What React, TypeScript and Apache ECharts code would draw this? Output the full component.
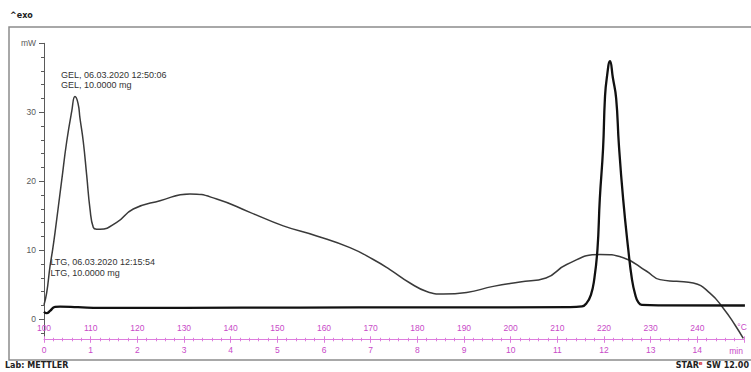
import React, { useEffect, useRef } from "react";
import * as echarts from "echarts";

// GEL sample curve: time (min) and heat flow (mW)
const gelTime = [
  0, 0.058, 0.129, 0.186, 0.236, 0.379, 0.486, 0.594, 0.664, 0.729, 0.771, 0.842,
  0.915, 0.986, 1.057, 1.129, 1.2, 1.558, 1.913, 2.486, 3.128, 3.7, 4.414, 5.127,
  5.843, 6.556, 7.056, 7.413, 7.842, 8.2, 8.556, 9.057, 9.627, 10.2, 10.756, 11.2,
  11.913, 12.413, 12.914, 13.2, 13.557, 13.913, 14.27, 14.556, 14.807, 14.985,
];
const gelPower = [
  2.09, 3.85, 7.69, 10.13, 12.57, 20.12, 25.73, 30.12, 32.28, 31.3, 29.14, 25.73,
  20.85, 15.98, 13.3, 13.06, 13.06, 14.04, 15.98, 17.19, 18.17, 17.44, 15.5, 13.54,
  12.08, 10.38, 8.67, 7.21, 5.26, 4.04, 3.65, 3.89, 4.77, 5.41, 5.99, 7.94,
  9.4, 8.92, 6.96, 5.75, 5.5, 5.26, 3.8, 1.61, -0.83, -2.78,
];

// LTG sample curve: time (min) and heat flow (mW)
const ltgTime = [
  0, 0.058, 0.129, 0.236, 0.343, 0.729, 1.2, 3.0, 5.49, 8.0, 11.27, 11.53, 11.63,
  11.72, 11.79, 11.86, 11.91, 11.98, 12.02, 12.06, 12.13, 12.19, 12.26, 12.32,
  12.41, 12.52, 12.6, 12.67, 12.73, 12.81, 13.2, 15.02,
];
const ltgPower = [
  1.11, 0.88, 1.21, 1.8, 1.83, 1.75, 1.65, 1.66, 1.7, 1.73, 1.75, 1.87, 2.38,
  3.55, 5.75, 10.13, 17.44, 24.75, 32.06, 34.99, 37.43, 35.0, 32.06, 25.19,
  17.44, 10.13, 5.75, 3.55, 2.53, 2.09, 2.02, 2.0,
];

// Axis tick positions
const yMajorTicks = [0, 10, 20, 30, 40];
const yMinorTicks = [-2, 2, 4, 6, 8, 12, 14, 16, 18, 22, 24, 26, 28, 32, 34, 36, 38];

const AXIS_GRAY = "#5a5a5a";
const PINK_LINE = "#dd7ddd";
const PINK_TEXT = "#c84ac8";
const FONT = "Liberation Sans, Arial, sans-serif";
const BOLD_FONT = "DejaVu Sans, Verdana, sans-serif";

const zip = (xs: number[], ys: number[]) => xs.map((x, i) => [x, ys[i]]);

export default function App() {
  const ref = useRef<HTMLDivElement>(null);

  useEffect(() => {
    if (!ref.current) return;
    const chart = echarts.init(ref.current, undefined, { renderer: "svg" });

    const pinkTick = { lineStyle: { color: PINK_LINE, width: 1 } };

    chart.setOption({
      animation: false,
      backgroundColor: "#ffffff",
      grid: { left: 44, right: 7, top: 43.3, bottom: 32.7, containLabel: false },
      xAxis: [
        {
          type: "value",
          min: 0,
          max: 15,
          interval: 1,
          position: "bottom",
          axisLine: { show: true, onZero: false, lineStyle: { color: PINK_LINE, width: 1 } },
          axisTick: { show: true, length: 3.5, ...pinkTick },
          minorTick: { show: true, splitNumber: 5, length: 2, ...pinkTick },
          axisLabel: {
            color: PINK_TEXT,
            fontSize: 8.5,
            fontFamily: FONT,
            margin: 6,
            showMaxLabel: false,
          },
          splitLine: { show: false },
        },
        {
          type: "value",
          min: 100,
          max: 250,
          interval: 10,
          position: "bottom",
          axisLine: { show: false, onZero: false },
          axisTick: { show: true, inside: true, length: 3, ...pinkTick },
          minorTick: { show: true, splitNumber: 5, length: 1.5, ...pinkTick },
          axisLabel: {
            inside: true,
            color: PINK_TEXT,
            fontSize: 8.5,
            fontFamily: FONT,
            margin: 7,
            showMaxLabel: false,
          },
          splitLine: { show: false },
        },
      ],
      yAxis: [
        {
          type: "value",
          min: -2.9,
          max: 40,
          position: "left",
          axisLine: { show: true, onZero: false, lineStyle: { color: AXIS_GRAY, width: 1 } },
          axisTick: {
            show: true,
            customValues: yMajorTicks,
            length: 5,
            lineStyle: { color: AXIS_GRAY },
          },
          axisLabel: {
            customValues: yMajorTicks,
            formatter: (v: number) => (v === 40 ? "mW" : String(v)),
            color: AXIS_GRAY,
            fontSize: 8.5,
            fontFamily: FONT,
            margin: 8,
          },
          splitLine: { show: false },
        },
        {
          type: "value",
          min: -2.9,
          max: 40,
          position: "left",
          axisLine: { show: false },
          axisTick: {
            show: true,
            customValues: yMinorTicks,
            length: 3,
            lineStyle: { color: AXIS_GRAY },
          },
          axisLabel: { show: false },
          splitLine: { show: false },
        },
      ],
      series: [
        {
          name: "GEL",
          type: "line",
          xAxisIndex: 0,
          yAxisIndex: 0,
          data: zip(gelTime, gelPower),
          showSymbol: false,
          smooth: 0.5,
          lineStyle: { color: "#3a3a3a", width: 1.5 },
          z: 3,
        },
        {
          name: "LTG",
          type: "line",
          xAxisIndex: 0,
          yAxisIndex: 0,
          data: zip(ltgTime, ltgPower),
          showSymbol: false,
          smooth: 0.5,
          lineStyle: { color: "#111111", width: 2.3 },
          z: 4,
        },
      ],
      graphic: [
        {
          type: "rect",
          z: 0,
          shape: { x: 9, y: 27, width: 800, height: 333 },
          style: { fill: "none", stroke: "#8c8c8c", lineWidth: 1.5 },
        },
        {
          type: "text",
          x: 10,
          y: 15,
          style: {
            text: "^exo",
            font: `bold 8px ${BOLD_FONT}`,
            fill: "#222",
            verticalAlign: "middle",
          },
        },
        {
          type: "text",
          x: 5,
          y: 365.5,
          style: {
            text: "Lab: METTLER",
            font: `bold 8px ${BOLD_FONT}`,
            fill: "#222",
            verticalAlign: "middle",
          },
        },
        {
          type: "text",
          x: 749,
          y: 365.5,
          style: {
            text: "{a|STAR}{b|e}{a| SW 12.00}",
            align: "right",
            verticalAlign: "middle",
            rich: {
              a: { font: `bold 8px ${BOLD_FONT}`, fill: "#222" },
              b: {
                font: `bold 5.5px ${BOLD_FONT}`,
                fill: "#d42020",
                padding: [0, 1, 5, 0],
              },
            },
          },
        },
        {
          type: "text",
          x: 61,
          y: 80,
          style: {
            text: "GEL, 06.03.2020 12:50:06\nGEL, 10.0000 mg",
            font: `9px ${FONT}`,
            lineHeight: 10.5,
            fill: "#333",
            verticalAlign: "middle",
          },
        },
        {
          type: "text",
          x: 50.5,
          y: 267.3,
          style: {
            text: "LTG, 06.03.2020 12:15:54\nLTG, 10.0000 mg",
            font: `9px ${FONT}`,
            lineHeight: 11,
            fill: "#333",
            verticalAlign: "middle",
          },
        },
        {
          type: "text",
          x: 736,
          y: 350.7,
          style: {
            text: "min",
            font: `8.5px ${FONT}`,
            fill: PINK_TEXT,
            align: "center",
            verticalAlign: "middle",
          },
        },
        {
          type: "text",
          x: 742,
          y: 326.7,
          style: {
            text: "°C",
            font: `8.5px ${FONT}`,
            fill: PINK_TEXT,
            align: "center",
            verticalAlign: "middle",
          },
        },
      ],
    });

    return () => chart.dispose();
  }, []);

  return (
    <div
      ref={ref}
      style={{ position: "fixed", left: 0, top: 0, width: 751, height: 372, background: "#fff" }}
    />
  );
}
